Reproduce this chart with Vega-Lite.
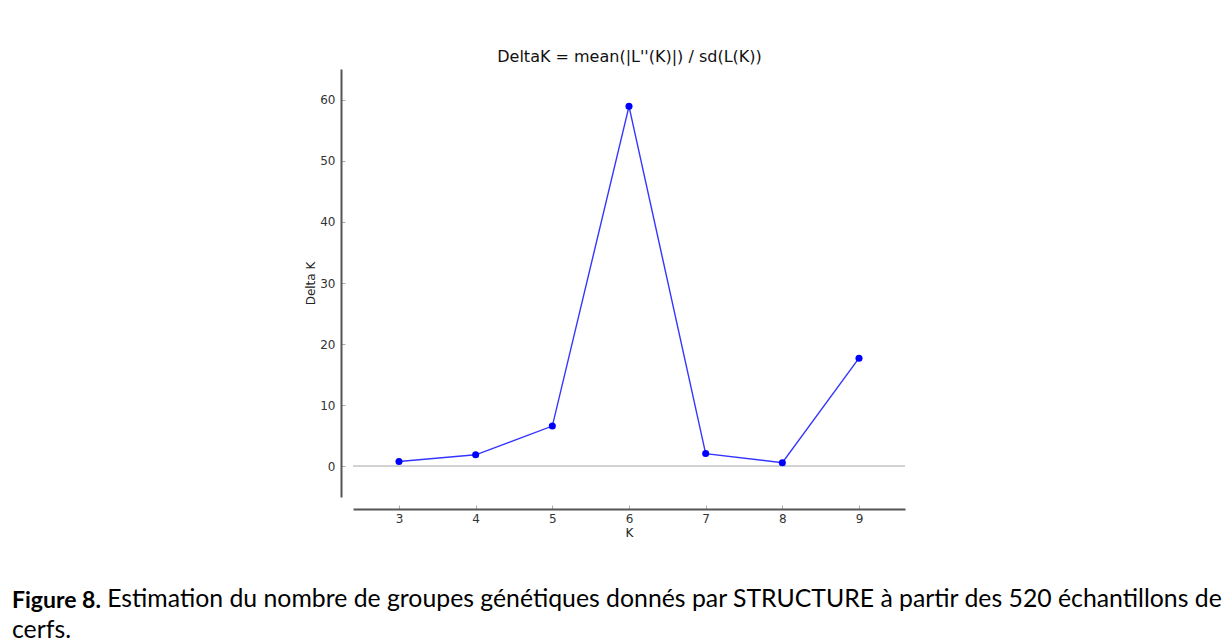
{
  "$schema": "https://vega.github.io/schema/vega-lite/v6.json",
  "autosize": {"type": "none"},
  "padding": {"left": 353, "top": 69, "right": 324, "bottom": 145},
  "width": 552,
  "height": 428,
  "background": "white",
  "config": {
    "view": {"stroke": null},
    "axis": {
      "domainColor": "#555555",
      "domainWidth": 2,
      "tickColor": "#aaaaaa",
      "tickSize": -4,
      "tickWidth": 1,
      "grid": false,
      "labelFont": "DejaVu Sans",
      "labelFontSize": 12,
      "labelColor": "#333333",
      "titleFont": "DejaVu Sans",
      "titleFontSize": 12,
      "titleFontWeight": "normal",
      "titleColor": "#222222"
    }
  },
  "title": {
    "text": "Figure 8.",
    "subtitle": ["\u200b\u00a0\u00a0\u00a0\u00a0\u00a0\u00a0\u00a0\u00a0\u00a0\u00a0\u00a0\u00a0\u00a0\u00a0\u00a0Estimation du nombre de groupes génétiques donnés par STRUCTURE à partir des 520 échantillons de", "cerfs."],
    "orient": "bottom",
    "anchor": "start",
    "frame": "group",
    "dx": -341,
    "offset": 52,
    "font": "Lato",
    "fontSize": 23,
    "fontWeight": "bold",
    "color": "#000000",
    "subtitleFont": "Lato",
    "subtitleFontSize": 24.8,
    "subtitleFontWeight": "normal",
    "subtitleColor": "#000000",
    "subtitleLineHeight": 31,
    "subtitlePadding": -26
  },
  "data": {"values": [
    {"K": 3, "DeltaK": 0.8},
    {"K": 4, "DeltaK": 1.9},
    {"K": 5, "DeltaK": 6.6},
    {"K": 6, "DeltaK": 58.9},
    {"K": 7, "DeltaK": 2.1},
    {"K": 8, "DeltaK": 0.6},
    {"K": 9, "DeltaK": 17.7}
  ]},
  "resolve": {"axis": {"x": "independent"}},
  "layer": [
    {
      "mark": {"type": "rule", "color": "#d0d0d0", "strokeWidth": 1.2},
      "encoding": {
        "y": {"datum": 0, "type": "quantitative", "scale": {"domain": [-5, 65], "nice": false, "zero": false}}
      }
    },
    {
      "mark": {"type": "line", "color": "#3535ff", "strokeWidth": 1.4},
      "encoding": {
        "x": {"field": "K", "type": "quantitative",
              "scale": {"domain": [2.4, 9.6], "nice": false, "zero": false},
              "axis": {"orient": "bottom", "offset": 12, "values": [3, 4, 5, 6, 7, 8, 9], "title": "K", "titlePadding": 3, "labelPadding": 8}},
        "y": {"field": "DeltaK", "type": "quantitative",
              "scale": {"domain": [-5, 65], "nice": false, "zero": false},
              "axis": {"orient": "left", "offset": 12, "values": [0, 10, 20, 30, 40, 50, 60], "title": "Delta K", "titlePadding": 2, "labelPadding": 10}}
      }
    },
    {
      "mark": {"type": "point", "filled": true, "color": "#0000ff", "size": 50, "opacity": 1},
      "encoding": {
        "x": {"field": "K", "type": "quantitative",
              "axis": {"orient": "top", "domain": false, "ticks": false, "labels": false, "title": "DeltaK = mean(|L''(K)|) / sd(L(K))", "titleFontSize": 16, "titleColor": "#111111", "titlePadding": 5}},
        "y": {"field": "DeltaK", "type": "quantitative"}
      }
    }
  ]
}
